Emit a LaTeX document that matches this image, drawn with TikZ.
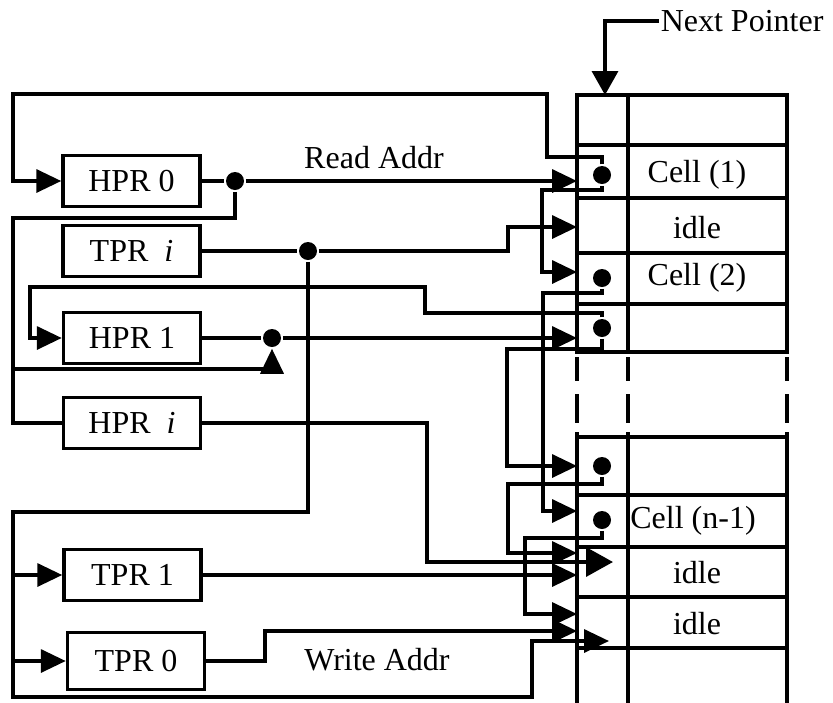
\documentclass[tikz,border=0pt]{standalone}
\usepackage{fontspec}
\setmainfont{Liberation Serif}
\usetikzlibrary{arrows.meta}
\begin{document}
\begin{tikzpicture}[x=1pt,y=-1pt, line width=3.5pt,
  font=\fontsize{32}{38}\selectfont,
  reg/.style={draw, line width=3.5pt, minimum width=137pt, minimum height=51pt, inner sep=0pt},
  tip/.style={-{Triangle[length=25pt,width=23pt]}},
  bigtip/.style={-{Triangle[length=27pt,width=29pt]}},
  blob/.style={circle, fill, draw=none, inner sep=0pt, minimum size=18pt},
  lbl/.style={inner sep=0pt},
  tabline/.style={line width=3.5pt, line cap=rect}]
\useasboundingbox (0,0) rectangle (833,702);

% ---- table ----
\foreach \y in {95,145,198,253,304,352,437,495,547,597,648}
  \draw[tabline] (577,\y) -- (787,\y);
\foreach \x in {577,628,787} {
  \draw[tabline] (\x,95) -- (\x,352);
  \draw[tabline] (\x,437) -- (\x,702);
  \draw[line width=4.5pt] (\x,357) -- (\x,381) (\x,394) -- (\x,423) (\x,432) -- (\x,437);
}

% ---- labels in table ----
\node[lbl] (c1)  at (697,175) {Cell (1)};
\node[lbl] (id1) at (697,228) {idle};
\node[lbl] (c2)  at (697,278) {Cell (2)};
\node[lbl] (cn)  at (693,521) {Cell (n-1)};
\node[lbl] (id2) at (697,573) {idle};
\node[lbl] (id3) at (697,624) {idle};

% ---- pointer dots ----
\node[blob] (p1) at (602,175) {};
\node[blob] (p2) at (602,278) {};
\node[blob] (p3) at (602,328) {};
\node[blob] (p4) at (602,466) {};
\node[blob] (p5) at (602,520) {};

% ---- registers ----
\node[reg] (hpr0) at (131.5,181) {HPR 0};
\node[reg] (tpri) at (131.5,251) {TPR\ \ \textit{i}};
\node[reg] (hpr1) at (132,338) {HPR 1};
\node[reg] (hpri) at (132,423) {HPR\ \ \textit{i}};
\node[reg] (tpr1) at (132.5,575) {TPR 1};
\node[reg, minimum height=57pt] (tpr0) at (136,661) {TPR 0};

% ---- junction dots ----
\node[blob] (j0) at (235,181) {};
\node[blob] (jt) at (308,251) {};
\node[blob] (j1) at (272,338) {};

% ---- texts ----
\node[lbl, anchor=west] (np) at (659,21) {Next Pointer};
\node[lbl, anchor=base] (ra) at (374,168) {Read Addr};
\node[lbl, anchor=base] (wa) at (377,670) {Write Addr};

\draw[-{Triangle[length=24pt,width=26pt]}] (np.west) -| (605,95);

% ---- connectors ----
\draw[tip] (p1) -- (602,157) -- (547,157) -- (547,94) -- (13,94) -- (13,181) -- (hpr0.west);
\draw[tip] (hpr0.east) -- (j0) -- (577,181);
\draw[tip] (p1) -- (602,190) -- (542,190) -- (542,272) -- (577,272);
\draw[tip] (tpri.east) -- (jt) -- (508,251) -- (508,227) -- (577,227);
\draw (j0) -- (235,218) -- (13,218) -- (13,423) -- (hpri.west);
\draw[tip] (13,369) -- (272,369) -- (j1.south);
\draw[tip] (hpr1.east) -- (j1) -- (577,338);
\draw[tip] (p3) -- (602,313) -- (425,313) -- (425,287) -- (30,287) -- (30,338) -- (hpr1.west);
\draw[tip] (p3) -- (602,349) -- (507,349) -- (507,466) -- (577,466);
\draw[tip] (p2) -- (602,293) -- (543,293) -- (543,511) -- (577,511);
\draw[tip] (p4) -- (602,484) -- (508,484) -- (508,553) -- (577,553);
\draw[tip] (p5) -- (602,538) -- (525,538) -- (525,614) -- (577,614);
\draw[bigtip] (hpri.east) -- (427,423) -- (427,562) -- (613,562);
\draw[tip] (tpr1.east) -- (577,575);
\draw[tip] (tpr0.east) -- (265,661) -- (265,631) -- (577,631);
\draw[tip] (jt) -- (308,512) -- (13,512) -- (13,697) -- (532,697) -- (532,641) -- (609,641);
\draw[tip] (13,575) -- (tpr1.west);
\draw[tip] (13,661) -- (tpr0.west);
\end{tikzpicture}
\end{document}
